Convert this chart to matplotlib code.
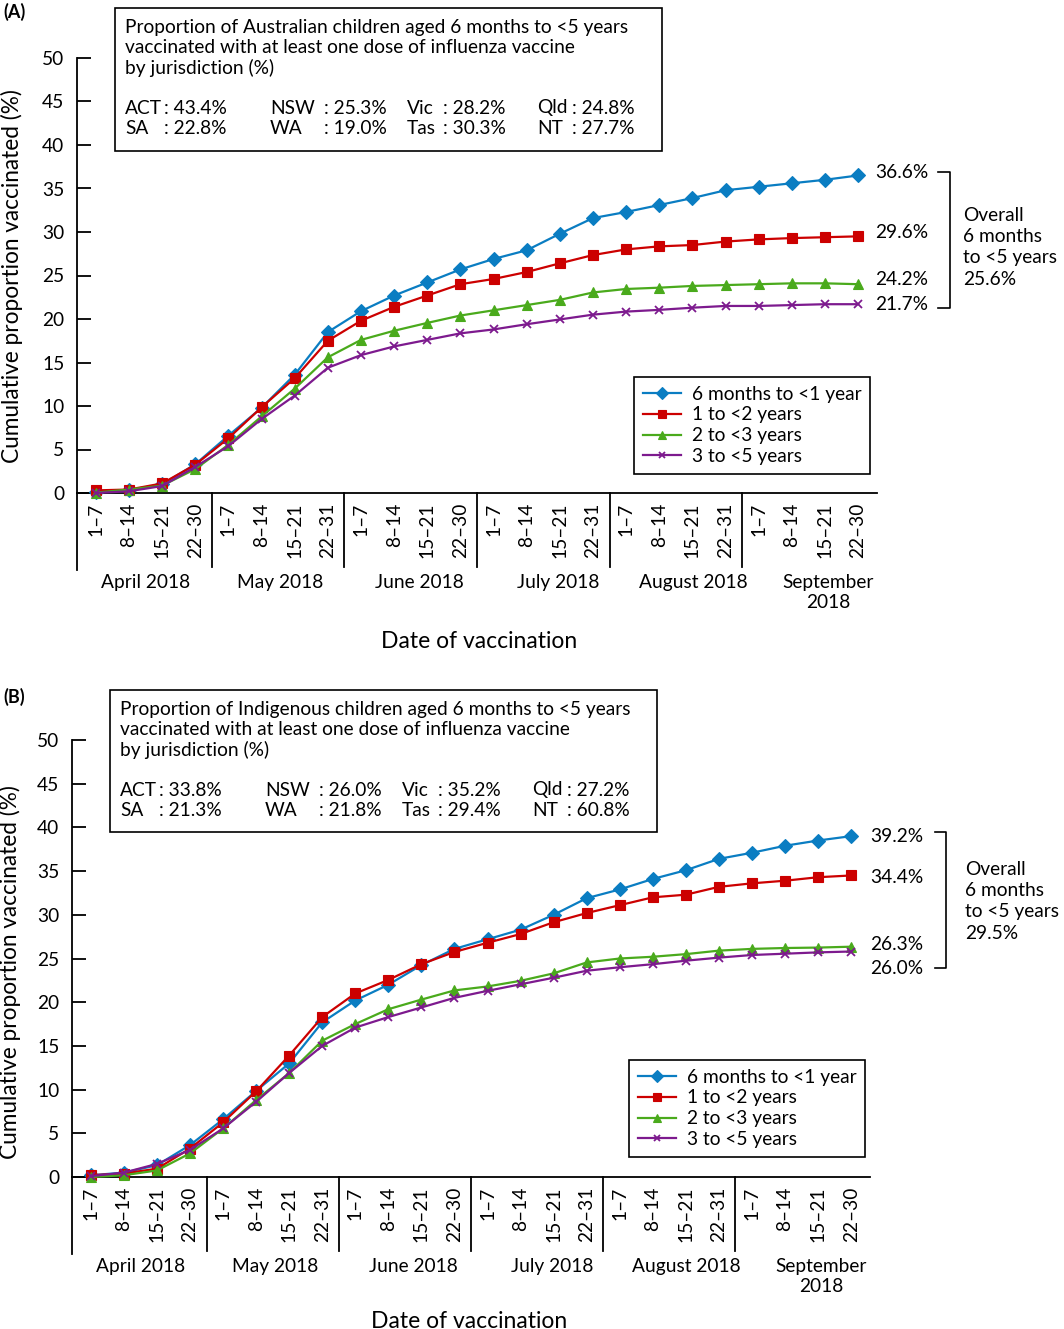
import matplotlib
matplotlib.use("Agg")
import matplotlib.pyplot as plt
from matplotlib.lines import Line2D
from matplotlib.patches import Rectangle
from matplotlib.transforms import blended_transform_factory

plt.rcParams['font.family'] = ['Lato', 'DejaVu Sans']

# ---- data ----
weeks = ["1–7", "8–14", "15–21", "22–30",
         "1–7", "8–14", "15–21", "22–31",
         "1–7", "8–14", "15–21", "22–30",
         "1–7", "8–14", "15–21", "22–31",
         "1–7", "8–14", "15–21", "22–31",
         "1–7", "8–14", "15–21", "22–30"]
months = ["April 2018", "May 2018", "June 2018", "July 2018",
          "August 2018", "September\n2018"]
series_names = ["6 months to <1 year", "1 to <2 years",
                "2 to <3 years", "3 to <5 years"]

# Panel A: all Australian children
a_6m_1y = [0.1, 0.35, 1.0, 3.3, 6.6, 9.8, 13.6, 18.5, 20.9, 22.7, 24.2, 25.7,
           26.9, 27.9, 29.8, 31.6, 32.3, 33.1, 33.9, 34.8, 35.2, 35.6, 36.0, 36.5]
a_1y_2y = [0.3, 0.4, 1.1, 3.25, 6.3, 9.85, 13.2, 17.5, 19.8, 21.4, 22.7, 24.0,
           24.6, 25.4, 26.4, 27.35, 28.0, 28.35, 28.5, 28.9, 29.15, 29.3, 29.4, 29.5]
a_2y_3y = [0.05, 0.4, 0.85, 2.75, 5.55, 8.8, 12.0, 15.6, 17.6, 18.65, 19.55, 20.4,
           21.0, 21.6, 22.2, 23.05, 23.45, 23.6, 23.8, 23.9, 24.0, 24.1, 24.1, 24.0]
a_3y_5y = [0.0, 0.2, 0.8, 3.0, 5.4, 8.5, 11.2, 14.4, 15.85, 16.85, 17.6, 18.35,
           18.8, 19.4, 19.95, 20.5, 20.85, 21.05, 21.3, 21.5, 21.5, 21.6, 21.7, 21.7]

# Panel B: Indigenous children
b_6m_1y = [0.2, 0.5, 1.35, 3.65, 6.6, 9.85, 13.0, 17.7, 20.2, 22.0, 24.25, 26.1,
           27.2, 28.3, 30.0, 31.9, 32.9, 34.1, 35.1, 36.4, 37.1, 37.9, 38.5, 39.0]
b_1y_2y = [0.2, 0.4, 0.95, 3.25, 6.25, 9.8, 13.9, 18.3, 21.0, 22.55, 24.35, 25.75,
           26.8, 27.8, 29.15, 30.2, 31.1, 32.0, 32.3, 33.2, 33.6, 33.9, 34.3, 34.5]
b_2y_3y = [0.0, 0.2, 0.75, 2.7, 5.55, 8.8, 11.9, 15.6, 17.5, 19.2, 20.3, 21.35,
           21.8, 22.45, 23.3, 24.55, 25.0, 25.2, 25.5, 25.9, 26.1, 26.2, 26.25, 26.35]
b_3y_5y = [0.1, 0.5, 1.5, 3.1, 5.55, 8.6, 11.9, 15.0, 17.1, 18.3, 19.4, 20.5,
           21.3, 22.05, 22.8, 23.6, 24.0, 24.35, 24.75, 25.1, 25.4, 25.55, 25.7, 25.8]

a_end_labels = ["36.6%", "29.6%", "24.2%", "21.7%"]
b_end_labels = ["39.2%", "34.4%", "26.3%", "26.0%"]
a_overall = "Overall\n6 months\nto <5 years\n25.6%"
b_overall = "Overall\n6 months\nto <5 years\n29.5%"

a_title = ("Proportion of Australian children aged 6 months to <5 years\n"
           "vaccinated with at least one dose of influenza vaccine\n"
           "by jurisdiction (%)")
b_title = ("Proportion of Indigenous children aged 6 months to <5 years\n"
           "vaccinated with at least one dose of influenza vaccine\n"
           "by jurisdiction (%)")
jur_names = [["ACT", "NSW", "Vic", "Qld"], ["SA", "WA", "Tas", "NT"]]
a_jur = [["43.4%", "25.3%", "28.2%", "24.8%"], ["22.8%", "19.0%", "30.3%", "27.7%"]]
b_jur = [["33.8%", "26.0%", "35.2%", "27.2%"], ["21.3%", "21.8%", "29.4%", "60.8%"]]

# ---- styling ----
colors = ["#0a7dc2", "#cc0000", "#4aaa1c", "#7d1a8e"]
markers = ["D", "s", "^", "x"]
msizes = [7, 6.5, 6.5, 5.5]
FS = 13.8
W, H = 1064, 1329

fig = plt.figure(figsize=(W / 100, H / 100), dpi=100)


def fx(px):
    return px / W


def fy(py):
    return 1 - py / H


def panel(left, right, top, bottom, series, end_labels, end_y, overall,
          letter, title, jur, box, lab_x, bracket, over_xy, leg_rt, ylab_xy, date_xy):
    ax = fig.add_axes([fx(left), fy(bottom), fx(right - left), (bottom - top) / H])
    x = list(range(len(weeks)))
    for vals, name, c, m, ms in zip(series, series_names, colors, markers, msizes):
        ax.plot(x, vals, color=c, lw=1.6, marker=m, ms=ms, mew=1.3 if m == "x" else 0.8,
                mec=c, label=name, clip_on=False, zorder=3)
    ax.set_xlim(-0.57, 23.57)
    ax.set_ylim(0, 50)
    ax.set_yticks(range(0, 51, 5))
    ax.tick_params(axis='y', direction='in', length=10, width=1.3, pad=9, labelsize=FS)
    ax.set_xticks(x)
    ax.set_xticklabels(weeks, rotation=90, fontsize=FS)
    ax.tick_params(axis='x', length=0, pad=7)
    for s in ["top", "right"]:
        ax.spines[s].set_visible(False)
    for s in ["left", "bottom"]:
        ax.spines[s].set_linewidth(1.3)

    h = bottom - top
    trans = blended_transform_factory(ax.transData, ax.transAxes)
    ax.add_line(Line2D([0, 0], [0, -77 / h], transform=ax.transAxes, color="black",
                       lw=1.3, clip_on=False))
    for sep in [3.5, 7.5, 11.5, 15.5, 19.5]:
        ax.add_line(Line2D([sep, sep], [0, -74 / h], transform=trans, color="black",
                           lw=1.3, clip_on=False))
    month_x = [1.51, 5.57, 9.75, 13.96, 18.02, 22.1]
    for mx, mname in zip(month_x, months):
        ax.text(mx, -81 / h, mname, transform=trans, ha="center", va="top",
                fontsize=FS, linespacing=1.2)
    fig.text(fx(date_xy[0]), fy(date_xy[1]), "Date of vaccination", ha="center",
             va="center", fontsize=16.5)
    fig.text(fx(ylab_xy[0]), fy(ylab_xy[1]), "Cumulative proportion vaccinated (%)",
             rotation=90, ha="center", va="center", fontsize=16.3)

    # end labels
    tr2 = blended_transform_factory(fig.transFigure, ax.transData)
    for lbl, yv in zip(end_labels, end_y):
        ax.text(fx(lab_x), yv, lbl, transform=tr2, ha="left", va="center", fontsize=FS)
    bx0, bx1, by0, by1 = bracket
    fig.add_artist(Line2D([fx(bx0), fx(bx1), fx(bx1), fx(bx0)],
                          [fy(by0), fy(by0), fy(by1), fy(by1)], color="black", lw=1.2))
    fig.text(fx(over_xy[0]), fy(over_xy[1]), overall, ha="left", va="top",
             fontsize=FS, linespacing=1.3)

    # legend
    leg = ax.legend(loc="upper right", bbox_to_anchor=(fx(leg_rt[0]), fy(leg_rt[1])),
                    bbox_transform=fig.transFigure, fontsize=FS, frameon=True,
                    fancybox=False, framealpha=1, edgecolor="black", borderaxespad=0,
                    handlelength=2.0, handletextpad=0.55, labelspacing=0.2,
                    borderpad=0.45, markerscale=0.85)
    leg.get_frame().set_linewidth(1.2)

    # panel letter and info box
    fig.text(fx(3), fy(letter[1]), letter[0], ha="left", va="center",
             fontsize=13, fontweight="bold")
    x0, x1, y0, y1 = box
    fig.add_artist(Rectangle((fx(x0), fy(y1)), fx(x1 - x0), (y1 - y0) / H,
                             fill=False, edgecolor="black", lw=1.2,
                             transform=fig.transFigure))
    fig.text(fx(x0 + 10), fy(y0 + 11), title, ha="left", va="top", fontsize=FS,
             linespacing=1.2)
    col_x = [x0 + 10, x0 + 155, x0 + 292, x0 + 422]
    colon_x = [x0 + 49, x0 + 209, x0 + 328, x0 + 457]
    for r in range(2):
        ry = y0 + 100 + r * 21
        for c in range(4):
            fig.text(fx(col_x[c]), fy(ry), jur_names[r][c], ha="left", va="center",
                     fontsize=FS)
            fig.text(fx(colon_x[c]), fy(ry), ": " + jur[r][c],
                     ha="left", va="center", fontsize=FS)
    return ax


panel(77, 877, 58, 493, [a_6m_1y, a_1y_2y, a_2y_3y, a_3y_5y], a_end_labels,
      [36.8, 30.0, 24.5, 21.7], a_overall, ("(A)", 12), a_title, a_jur,
      (115, 662, 8, 151), 875, (938, 950, 172, 308), (963, 207),
      (870, 377), (12, 276), (479, 642))

panel(72, 870, 740, 1177, [b_6m_1y, b_1y_2y, b_2y_3y, b_3y_5y], b_end_labels,
      [39.0, 34.3, 26.6, 23.8], b_overall, ("(B)", 697), b_title, b_jur,
      (110, 657, 690, 832), 870, (935, 946, 832, 968), (965, 861),
      (865, 1060), (10, 972), (469, 1321))

fig.savefig("out.png", dpi=100)
